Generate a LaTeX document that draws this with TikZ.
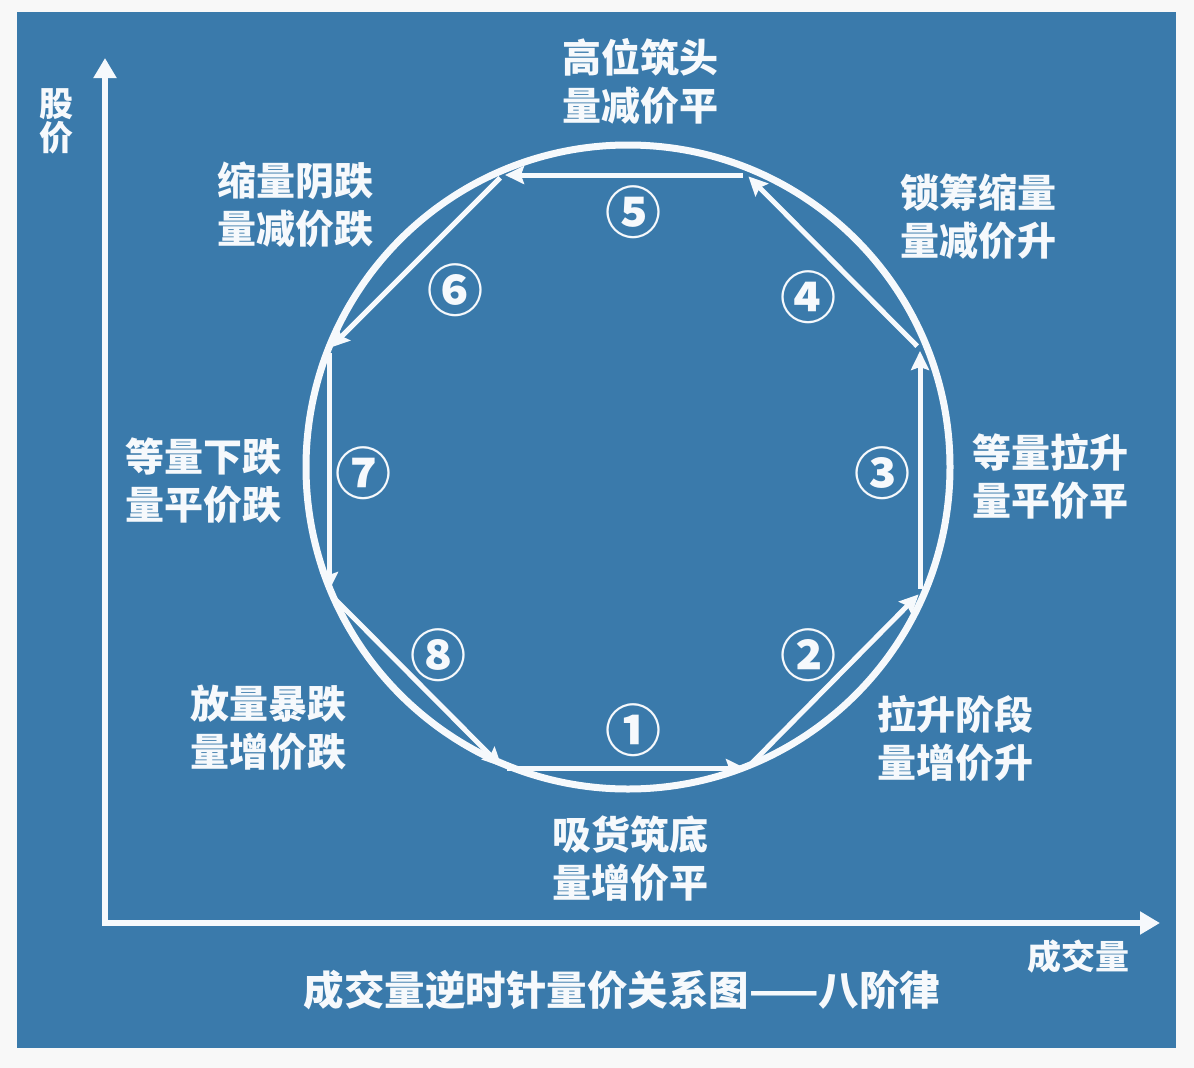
\documentclass[tikz,border=0pt]{standalone}
\usepackage{fontspec}
\newfontfamily\cjk{Noto Sans CJK SC}
\usetikzlibrary{arrows.meta}
\definecolor{bgblue}{RGB}{58,122,171}
\definecolor{page}{RGB}{248,248,248}
\definecolor{ink}{RGB}{246,249,252}
\tikzset{
  lbl/.style={text=ink, align=center, font=\cjk\bfseries\fontsize{39}{48}\selectfont, inner sep=0pt},
  ttl/.style={text=ink, align=center, font=\cjk\bfseries\fontsize{40.5}{48}\selectfont, inner sep=0pt},
  axlbl/.style={text=ink, align=center, font=\cjk\bfseries\fontsize{34}{34}\selectfont, inner sep=0pt},
  num/.style={text=ink, font=\cjk\bfseries\fontsize{56}{56}\selectfont, inner sep=0pt},
  stage/.style={draw=ink, line width=5pt, shorten <=4pt, shorten >=2pt, -{Stealth[length=19pt,width=18pt,inset=3pt]}},
  axis/.style={draw=ink, line width=6pt, -{Triangle[length=20pt,width=22pt]}}
}
\begin{document}
\begin{tikzpicture}[x=1pt,y=-1pt]
\useasboundingbox (0,0) rectangle (1194,1068);
\fill[page] (0,0) rectangle (1194,1068);
\fill[bgblue] (17,12) rectangle (1176,1048);
% axes
\coordinate (O) at (105,923);
\coordinate (ytip) at (105,58);
\coordinate (xtip) at (1160,923);
\draw[axis] ([yshift=3pt]O) -- (ytip);
\draw[axis] ([xshift=-3pt]O) -- (xtip);
\node[axlbl] (ylab) at (56,121) {股\\价};
\node[axlbl] (xlab) at (1078,957) {成交量};
% circle
\draw[ink, line width=7pt] (628,467) circle [radius=322];
% octagon vertices
\coordinate (v1) at (503,768);
\coordinate (v2) at (747,768);
\coordinate (v3) at (920,593);
\coordinate (v4) at (920,349);
\coordinate (v5) at (747,175);
\coordinate (v6) at (503,175);
\coordinate (v7) at (329,349);
\coordinate (v8) at (329,593);
\draw[stage] (v1) -- (v2);
\draw[stage] (v2) -- (v3);
\draw[stage] (v3) -- (v4);
\draw[stage] (v4) -- (v5);
\draw[stage] (v5) -- (v6);
\draw[stage] (v6) -- (v7);
\draw[stage] (v7) -- (v8);
\draw[stage] (v8) -- (v1);
% numbers
\node[num] (n1) at (633,730) {①};
\node[num] (n2) at (808,655) {②};
\node[num] (n3) at (882,473) {③};
\node[num] (n4) at (808,297) {④};
\node[num] (n5) at (633,212) {⑤};
\node[num] (n6) at (455,290) {⑥};
\node[num] (n7) at (363,473) {⑦};
\node[num] (n8) at (438,655) {⑧};
% labels
\node[lbl] (l5) at (640,81) {高位筑头\\量减价平};
\node[lbl] (l6) at (295,205) {缩量阴跌\\量减价跌};
\node[lbl] (l4) at (978,217) {锁筹缩量\\量减价升};
\node[lbl] (l7) at (203,481) {等量下跌\\量平价跌};
\node[lbl] (l3) at (1050,476) {等量拉升\\量平价平};
\node[lbl] (l8) at (268,728) {放量暴跌\\量增价跌};
\node[lbl] (l2) at (955,738) {拉升阶段\\量增价升};
\node[lbl] (l1) at (630,859) {吸货筑底\\量增价平};
\node[ttl] (title) at (622,990) {成交量逆时针量价关系图——八阶律};
\end{tikzpicture}
\end{document}
